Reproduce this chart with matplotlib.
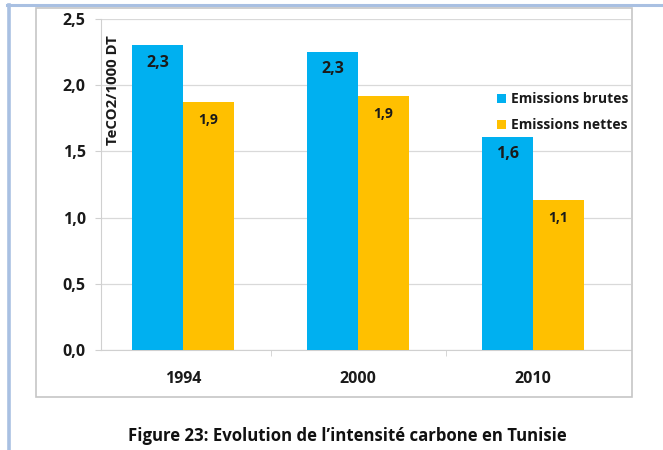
import matplotlib
matplotlib.use("Agg")
import matplotlib.pyplot as plt
from matplotlib.patches import Rectangle
from matplotlib.lines import Line2D
import numpy as np

plt.rcParams['font.family'] = ['Open Sans', 'DejaVu Sans']
plt.rcParams['font.weight'] = 'bold'

annees = ['1994', '2000', '2010']
brutes = [2.30, 2.25, 1.61]
nettes = [1.87, 1.92, 1.13]
etiquettes_brutes = ['2,3', '2,3', '1,6']
etiquettes_nettes = ['1,9', '1,9', '1,1']
yticks = [0.0, 0.5, 1.0, 1.5, 2.0, 2.5]
ytick_labels = ['0,0', '0,5', '1,0', '1,5', '2,0', '2,5']

bleu = '#00b0f0'
orange = '#ffc000'
texte = '#1a1a1a'

fig = plt.figure(figsize=(6.63, 4.5), dpi=100)

# cadre de page (bleu clair) et cadre du graphique
fig.add_artist(Line2D([7 / 663, 1], [1 - 5 / 450] * 2, color='#a9c0e2', lw=2.2))
fig.add_artist(Line2D([9 / 663] * 2, [0, 1 - 5 / 450], color='#a9c0e2', lw=2.6))
fig.add_artist(Rectangle((36 / 663, 1 - 397 / 450), (632 - 36) / 663, (397 - 8) / 450,
                         transform=fig.transFigure, fill=False, ec='#c6c6c6', lw=1.2))

ax = fig.add_axes([101 / 663, 1 - 350 / 450, 530 / 663, 331 / 450])

x = np.arange(len(annees))
w = 0.291
b1 = ax.bar(x - w / 2, brutes, w, color=bleu, label='Emissions brutes', zorder=3)
b2 = ax.bar(x + w / 2, nettes, w, color=orange, label='Emissions nettes', zorder=3)

for rect, lab in zip(b1, etiquettes_brutes):
    ax.text(rect.get_x() + rect.get_width() / 2, rect.get_height() - 0.13, lab,
            ha='center', va='center', fontsize=11.5, fontweight='bold', color=texte, zorder=4)
for rect, lab in zip(b2, etiquettes_nettes):
    ax.text(rect.get_x() + rect.get_width() / 2, rect.get_height() - 0.135, lab,
            ha='center', va='center', fontsize=10, fontweight='bold', color=texte, zorder=4)

ax.set_xlim(-0.469, 2.56)
ax.set_ylim(0, 2.5)
ax.set_yticks(yticks)
ax.set_yticklabels(ytick_labels)
ax.set_xticks(x)
ax.set_xticklabels(annees)
ax.set_xticks([0.5, 1.5], minor=True)

ax.grid(axis='y', color='#d9d9d9', lw=0.9, zorder=0)
for s in ['top', 'right']:
    ax.spines[s].set_visible(False)
ax.spines['left'].set_color('#d0d0d0')
ax.spines['bottom'].set_color('#d0d0d0')
ax.tick_params(axis='y', length=4, color='#d0d0d0', pad=7, labelsize=11.5, labelcolor=texte)
ax.tick_params(axis='x', which='major', length=0, pad=15, labelsize=11.5, labelcolor=texte)
ax.tick_params(axis='x', which='minor', length=4, color='#d0d0d0')
for t in ax.get_xticklabels() + ax.get_yticklabels():
    t.set_fontweight('bold')

ax.text(0.023, 0.785, 'TeCO2/1000 DT', transform=ax.transAxes, rotation=90,
        ha='center', va='center', fontsize=10.8, fontweight='bold', color=texte)

leg = ax.legend(loc='upper left', bbox_to_anchor=(0.747, 0.778), frameon=False,
                fontsize=10, handlelength=0.65, handleheight=0.65, handletextpad=0.4,
                labelspacing=0.85, borderaxespad=0, borderpad=0)
for t in leg.get_texts():
    t.set_fontweight('bold')
    t.set_color(texte)

fig.text(347 / 663, 1 - 436 / 450, 'Figure 23: Evolution de l\u2019intensité carbone en Tunisie',
         ha='center', va='center', fontsize=12.1, fontweight='bold', color='#111111')

fig.savefig('out.png', dpi=100)
